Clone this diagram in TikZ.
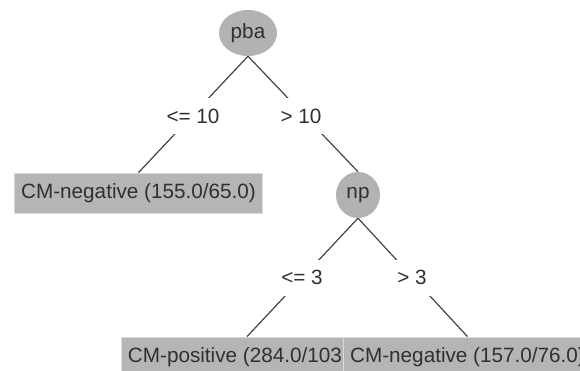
\documentclass[tikz,border=0pt]{standalone}
\usepackage{fontspec}
\setmainfont{Liberation Sans}
\usetikzlibrary{shapes.geometric,backgrounds}
\definecolor{nodegray}{HTML}{B2B2B2}
\definecolor{boxgray}{HTML}{B5B5B5}
\definecolor{inkgray}{HTML}{303030}
\definecolor{linegray}{HTML}{454545}
\begin{document}
\begin{tikzpicture}[x=1pt,y=-1pt,
  font=\fontsize{20.7}{24}\selectfont,
  testnode/.style={ellipse, fill=nodegray, inner sep=0pt, text=inkgray},
  leafbox/.style={rectangle, fill=boxgray, draw=white!85!black, line width=0.8pt,
    minimum height=40pt, inner xsep=7pt, inner ysep=0pt, text=inkgray, anchor=center},
  edgelabel/.style={rectangle, fill=white, minimum width=60pt, minimum height=36pt,
    inner sep=0pt, text=inkgray},
  conn/.style={draw=linegray, line width=1.2pt}]
\useasboundingbox (0,0) rectangle (580,371);
\clip (0,0) rectangle (580,371);
% nodes
\node[testnode, minimum width=58pt, minimum height=46pt] (pba) at (248,33) {pba};
\node[testnode, minimum width=44pt, minimum height=46pt] (np) at (358,195) {np};
\node[leafbox] (neg1) at (138.5,193) {CM-negative (155.0/65.0)};
\node[leafbox] (pos) at (247,357) {CM-positive (284.0/103.0)};
\node[leafbox] (neg2) at (467.5,357) {CM-negative (157.0/76.0)};
\node[edgelabel] (l1) at (193,116.5) {<= 10};
\node[edgelabel] (l2) at (301,116.5) {> 10};
\node[edgelabel] (l3) at (302,277.5) {<= 3};
\node[edgelabel] (l4) at (412,277.5) {> 3};
% connectors
\begin{scope}[on background layer]
\fill[white] (0,0) rectangle (580,371);
\draw[conn] (pba.south) -- (neg1.north);
\draw[conn] (pba.south) -- (np.north);
\draw[conn] (np.south) -- (pos.north);
\draw[conn] (np.south) -- (neg2.north);
\end{scope}
\end{tikzpicture}
\end{document}
